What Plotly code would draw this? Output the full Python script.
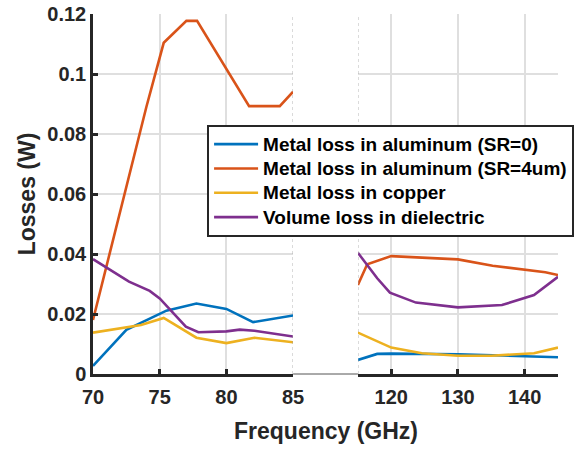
import plotly.graph_objects as go

# ---------------- data ----------------
names = [
    "Metal loss in aluminum (SR=0)",
    "Metal loss in aluminum (SR=4um)",
    "Metal loss in copper",
    "Volume loss in dielectric",
]
colors = ["#0072BD", "#D95319", "#EDB120", "#7E2F8E"]

# left band (70-85 GHz)
f_sr0_left = [70, 72.5, 75.5, 77.75, 80, 82, 85]
sr0_left = [0.0027, 0.0147, 0.0211, 0.0235, 0.0217, 0.0173, 0.0195]

f_sr4_left = [70, 72, 74, 75.3, 77, 77.8, 80, 81.7, 84, 85]
sr4_left = [0.018, 0.054, 0.089, 0.1104, 0.1177, 0.1177, 0.1017, 0.0893, 0.0893, 0.0941]

f_cu_left = [70, 73.6, 75.3, 77.75, 80, 82.1, 85]
cu_left = [0.0138, 0.0163, 0.0187, 0.0121, 0.0103, 0.0121, 0.0106]

f_diel_left = [70, 72.7, 74.25, 75, 76.96, 77.9, 80, 81, 82.1, 85]
diel_left = [0.0383, 0.0308, 0.0277, 0.0252, 0.0158, 0.0139, 0.0142, 0.0148, 0.0144, 0.0125]

# right band (115-145 GHz)
f_sr0_right = [115, 117.9, 120, 130, 145]
sr0_right = [0.0047, 0.0067, 0.0068, 0.0066, 0.0056]

f_sr4_right = [115, 116.4, 120, 130, 135.2, 140, 143.1, 145]
sr4_right = [0.0297, 0.0366, 0.0393, 0.0382, 0.0361, 0.0349, 0.0339, 0.0330]

f_cu_right = [115, 120, 124.6, 130, 135, 141.4, 145]
cu_right = [0.0138, 0.0088, 0.0069, 0.0061, 0.0061, 0.0069, 0.0088]

f_diel_right = [115, 117.9, 119.8, 123.7, 130, 136.6, 141.4, 145]
diel_right = [0.0404, 0.0319, 0.0271, 0.0238, 0.0222, 0.0230, 0.0263, 0.0324]

x_left_ticks = [70, 75, 80, 85]
x_right_ticks = [120, 130, 140]
y_ticks = [0, 0.02, 0.04, 0.06, 0.08, 0.1, 0.12]
y_ticklabels = ["0", "0.02", "0.04", "0.06", "0.08", "0.1", "0.12"]

left_series = [
    (f_sr0_left, sr0_left),
    (f_sr4_left, sr4_left),
    (f_cu_left, cu_left),
    (f_diel_left, diel_left),
]
right_series = [
    (f_sr0_right, sr0_right),
    (f_sr4_right, sr4_right),
    (f_cu_right, cu_right),
    (f_diel_right, diel_right),
]

# ---------------- figure ----------------
FONT = "Liberation Sans, Arial, Helvetica, sans-serif"
AX = "#262626"
GRID = "#dfdfdf"

fig = go.Figure()
for i, (name, col) in enumerate(zip(names, colors)):
    fx, fy = left_series[i]
    fig.add_trace(go.Scatter(x=fx, y=fy, mode="lines",
                             name="<span style='font-size:19px'>" + name + "</span>",
                             line=dict(color=col, width=2.6),
                             legendgroup=name, xaxis="x", yaxis="y"))
    gx, gy = right_series[i]
    fig.add_trace(go.Scatter(x=gx, y=gy, mode="lines", name=name,
                             line=dict(color=col, width=2.6),
                             legendgroup=name, showlegend=False,
                             xaxis="x2", yaxis="y"))

W, H = 578, 450
L, T = 93, 14
plot_right, plot_bottom = 574, 374
R = W - plot_right
B = H - plot_bottom
pw = plot_right - L
ph = plot_bottom - T
d1 = (300 - L) / pw
d2 = (367 - L) / pw

tickfont = dict(family=FONT, size=20, color=AX, weight="bold")
common_x = dict(showline=True, linecolor=AX, linewidth=2.5, ticks="inside",
                ticklen=5, tickwidth=2.5, tickcolor=AX, showgrid=True,
                gridcolor=GRID, gridwidth=2, zeroline=False,
                ticklabelstandoff=3, tickfont=tickfont)

fig.update_layout(
    width=W, height=H, autosize=False,
    margin=dict(l=L, r=R, t=T, b=B),
    paper_bgcolor="white", plot_bgcolor="white",
    font=dict(family=FONT, color=AX, weight="bold"),
    xaxis=dict(domain=[0, d1], range=[70, 85], tickvals=x_left_ticks,
               anchor="y", **common_x),
    xaxis2=dict(domain=[d2, 1], range=[115, 145], tickvals=x_right_ticks,
                anchor="y", **common_x),
    yaxis=dict(range=[0, 0.120001], tickvals=y_ticks, ticktext=y_ticklabels,
               showline=True, linecolor=AX, linewidth=2.5, ticks="inside",
               ticklen=5, tickwidth=2.5, tickcolor=AX, showgrid=True,
               gridcolor=GRID, gridwidth=2, zeroline=False, anchor="x",
               ticklabelstandoff=0, ticklabeloverflow="allow", tickfont=tickfont,
               title=dict(text="Losses (W)", standoff=6,
                          font=dict(family=FONT, size=23, color=AX, weight="bold"))),
    legend=dict(x=(211 - L) / pw, y=(374 - 125) / ph, xanchor="left", yanchor="top",
                bgcolor="white", bordercolor=AX, borderwidth=2,
                font=dict(family=FONT, size=16.4, color="black", weight="bold"),
                itemwidth=44, tracegroupgap=0),
    showlegend=True,
)

fig.add_annotation(text="Frequency (GHz)", xref="paper", yref="paper",
                   x=0.5, y=(374 - 431) / ph, xanchor="center", yanchor="middle",
                   showarrow=False,
                   font=dict(family=FONT, size=23, color=AX, weight="bold"))

# break markers
fig.add_shape(type="line", xref="x", yref="y", x0=85, x1=85, y0=0, y1=0.12,
              line=dict(color="#a0a0a0", width=1, dash="dot"))
fig.add_shape(type="line", xref="x2", yref="y", x0=115, x1=115, y0=0, y1=0.12,
              line=dict(color="#a0a0a0", width=1, dash="dot"))
fig.add_shape(type="line", xref="paper", yref="paper", x0=d1, x1=d2, y0=0, y1=0,
              line=dict(color="#555555", width=1))

fig.write_html("out.html",
               config={"displayModeBar": False},
               post_script="document.body.style.margin='0';document.body.style.overflow='hidden';")
